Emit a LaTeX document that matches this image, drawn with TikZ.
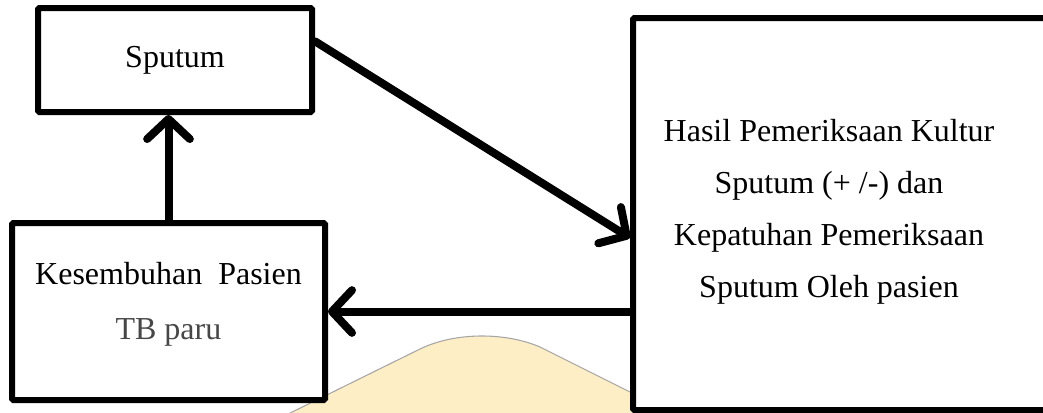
\documentclass[tikz,border=0pt]{standalone}
\usepackage{fontspec}
\setmainfont{Liberation Serif}
\usetikzlibrary{arrows.meta,calc}
\begin{document}
\begin{tikzpicture}[x=0.75pt,y=-0.75pt,
  box/.style={draw=black,line width=4.5pt,fill=white,rounded corners=1pt,inner sep=0pt},
  txt/.style={font=\fontsize{24}{39}\selectfont,align=center,inner sep=0pt},
  arr/.style={line width=6pt,line cap=round,-{Straight Barb[length=15pt,width=32pt,line cap=round,line join=round]}}]
\useasboundingbox (0,0) rectangle (1043,412);
\clip (0,0) rectangle (1043,412);
\fill[white] (0,0) rectangle (1043,412);
% watermark
\path[fill={rgb,255:red,253;green,238;blue,198},draw=black!35,line width=0.8pt,line join=round]
  (276,420) -- (420,349) .. controls (455,332) and (505,332) .. (540,347) -- (686,420) -- cycle;
% boxes
\node[box,minimum width=205.5pt,minimum height=78pt] (sp) at (175,60) {};
\node[txt] (spt) at (sp.center) {Sputum};
\node[box,minimum width=234.75pt,minimum height=132.75pt] (kes) at (168.5,311.5) {};
\node[txt,font=\fontsize{24}{41}\selectfont] (kest) at (168.5,304.5) {Kesembuhan\ \ Pasien\\\textcolor{black!72}{TB paru}};
\node[box,minimum width=322.5pt,minimum height=294pt] (big) at (848,214) {};
\node[txt] (bigt) at (829,212) {Hasil Pemeriksaan Kultur\\Sputum (+ /-) dan\\Kepatuhan Pemeriksaan\\Sputum Oleh pasien};
% arrows
\draw[arr] (kes.north) -- (kes.north |- sp.south);
\draw[arr] ($(sp.north east)!0.33!(sp.south east)$) -- ($(big.north west)!0.56!(big.south west)$);
\draw[arr] (kes.east -| big.west) -- (kes.east);
\end{tikzpicture}
\end{document}
